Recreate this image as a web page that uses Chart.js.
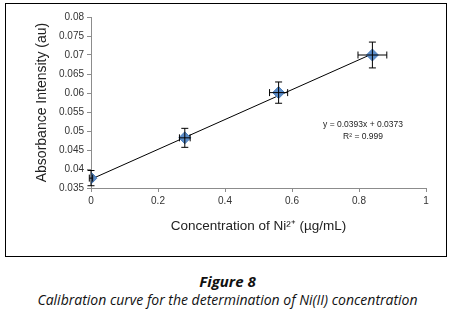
<!DOCTYPE html>
<html>
<head>
<meta charset="utf-8">
<script src="https://cdn.jsdelivr.net/npm/chart.js@4.4.1/dist/chart.umd.min.js"></script>
<style>
  body { margin: 0; background: #fff; width: 455px; height: 320px; position: relative; overflow: hidden; }
  #box { position: absolute; left: 5px; top: 3px; width: 440px; height: 252px; border: 1px solid #000; }
  #cap1 { position: absolute; left: 0; width: 455px; top: 271px; text-align: center;
          font: italic bold 15px "Open Sans", sans-serif; color: #111; }
  #cap2 { position: absolute; left: 0; width: 455px; top: 290px; text-align: center;
          font: italic 14px "Open Sans", sans-serif; color: #111; }
</style>
</head>
<body>
<div id="box"><canvas id="chart" width="440" height="252"></canvas></div>
<div id="cap1">Figure 8</div>
<div id="cap2">Calibration curve for the determination of Ni(II) concentration</div>
<script>
// Data
const concentration = [0, 0.28, 0.56, 0.84];
const absorbance = [0.0376, 0.0482, 0.0601, 0.0700];
const yError = [0.0020, 0.0025, 0.0028, 0.0034];
const xError = [0.005, 0.016, 0.027, 0.043];

// Trendline reported on the chart
const slope = 0.0393;
const intercept = 0.0373;
const trendX = [0, 0.84];
const equationText = ['y = 0.0393x + 0.0373', 'R\u00b2 = 0.999'];

const xTicks = [0, 0.2, 0.4, 0.6, 0.8, 1];
const yTicks = [0.035, 0.04, 0.045, 0.05, 0.055, 0.06, 0.065, 0.07, 0.075, 0.08];

const labelFont = { family: 'Liberation Sans', size: 10 };
const axisColor = '#8c8c8c';

// Error bars + equation label, positioned through the chart scales
const errorBars = {
  id: 'errorBars',
  afterDatasetsDraw(chart) {
    const ctx = chart.ctx;
    const xs = chart.scales.x, ys = chart.scales.y;
    ctx.save();
    ctx.strokeStyle = '#000';
    ctx.lineWidth = 1;
    concentration.forEach((c, i) => {
      const px = xs.getPixelForValue(c);
      const py = ys.getPixelForValue(absorbance[i]);
      const top = ys.getPixelForValue(absorbance[i] + yError[i]);
      const bot = ys.getPixelForValue(absorbance[i] - yError[i]);
      const left = xs.getPixelForValue(c - xError[i]);
      const right = xs.getPixelForValue(c + xError[i]);
      ctx.beginPath();
      ctx.moveTo(px, top); ctx.lineTo(px, bot);
      ctx.moveTo(px - 3.5, top); ctx.lineTo(px + 3.5, top);
      ctx.moveTo(px - 3.5, bot); ctx.lineTo(px + 3.5, bot);
      ctx.moveTo(left, py); ctx.lineTo(right, py);
      ctx.moveTo(left, py - 3.5); ctx.lineTo(left, py + 3.5);
      ctx.moveTo(right, py - 3.5); ctx.lineTo(right, py + 3.5);
      ctx.stroke();
    });
    ctx.fillStyle = '#222';
    ctx.font = '8.5px "Liberation Sans Narrow", "Liberation Sans"';
    ctx.textAlign = 'center';
    ctx.textBaseline = 'middle';
    ctx.fillText(equationText[0], xs.getPixelForValue(0.812), ys.getPixelForValue(0.0516));
    ctx.fillText(equationText[1], xs.getPixelForValue(0.812), ys.getPixelForValue(0.0485));
    ctx.restore();
  }
};

new Chart(document.getElementById('chart'), {
  type: 'scatter',
  data: {
    datasets: [{
      label: 'Trend',
      type: 'line',
      data: trendX.map(x => ({ x: x, y: slope * x + intercept })),
      borderColor: '#000',
      borderWidth: 1,
      pointRadius: 0,
      order: 2
    }, {
      label: 'Absorbance',
      data: concentration.map((c, i) => ({ x: c, y: absorbance[i] })),
      pointStyle: 'rectRot',
      pointRadius: 6,
      backgroundColor: '#5b8cc8',
      borderColor: '#4f81bd',
      order: 1
    }]
  },
  options: {
    responsive: false,
    animation: false,
    layout: { padding: { top: 13, right: 20, left: 24, bottom: 18 } },
    plugins: { legend: { display: false }, tooltip: { enabled: false } },
    scales: {
      x: {
        type: 'linear',
        min: 0, max: 1,
        afterBuildTicks: s => { s.ticks = xTicks.map(v => ({ value: v })); },
        afterFit: s => { s.height = 50; },
        grid: { drawOnChartArea: false, tickLength: 4, color: axisColor },
        border: { color: axisColor },
        ticks: { color: '#333', font: labelFont, padding: 3, maxRotation: 0,
                 callback: v => String(+v.toFixed(1)) },
        title: { display: true, text: 'Concentration of Ni\u00b2\u207a (\u00b5g/mL)',
                 color: '#222', font: { family: 'Liberation Sans', size: 13.5 }, padding: { top: 4 } }
      },
      y: {
        min: 0.035, max: 0.08,
        afterBuildTicks: s => { s.ticks = yTicks.map(v => ({ value: v })); },
        afterFit: s => { s.width = 61; },
        grid: { drawOnChartArea: false, tickLength: 4, color: axisColor },
        border: { color: axisColor },
        ticks: { color: '#333', font: labelFont, padding: 3,
                 callback: v => String(+v.toFixed(3)) },
        title: { display: true, text: 'Absorbance Intensity (au)',
                 color: '#222', font: { family: 'Liberation Sans', size: 14 }, padding: { bottom: 0 } }
      }
    }
  },
  plugins: [errorBars]
});
</script>
</body>
</html>
